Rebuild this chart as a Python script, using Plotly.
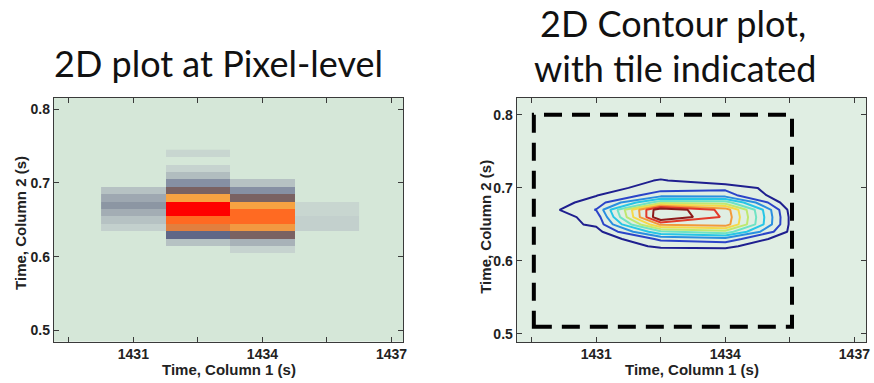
import numpy as np
import plotly.graph_objects as go

# ---- pixel-level intensities (left panel) ----
pixel_x = [1431.0, 1432.5, 1434.0, 1435.5]          # Time, column 1 (s) – pixel centres
pixel_y = [0.60, 0.61, 0.62, 0.63, 0.64, 0.65, 0.66, 0.67,
           0.68, 0.69, 0.70, 0.71, 0.72, 0.73, 0.74]  # Time, column 2 (s)
pix_1431_0 = [0, 0, 0, 0, 9, 14, 22, 32, 24, 14, 0, 0, 0, 0, 0]
pix_1432_5 = [0, 0, 14, 44, 62, 84, 100, 100, 70, 52, 36, 16, 8, 0, 7]
pix_1434_0 = [0, 8, 20, 52, 68, 84, 84, 70, 52, 36, 14, 0, 0, 0, 0]
pix_1435_5 = [0, 0, 0, 0, 9, 9, 7, 7, 0, 0, 0, 0, 0, 0, 0]

# ---- contour grid (right panel) ----
contour_x = [1429.5, 1431.0, 1432.5, 1434.0, 1435.5, 1437.0]
contour_y = [0.60, 0.61, 0.62, 0.63, 0.64, 0.65, 0.66, 0.67,
             0.68, 0.69, 0.70, 0.71, 0.72, 0.73]
cz_1429_5 = [0, 0, 0, 0, 0, 0, 0, 0, 0, 0, 0, 0, 0, 0]
cz_1431_0 = [0, 0, 0, 0, 4, 10, 11.5, 18.5, 12, 7.5, 2, 0, 0, 0]
cz_1432_5 = [0, 0, 10, 20, 46, 80, 110, 108, 54, 23, 14, 9, 3, 0]
cz_1434_0 = [0, 2, 10, 24, 54, 84, 86, 84, 53, 22, 16, 0, 0, 0]
cz_1435_5 = [0, 0, 0, 0, 6, 6.5, 6.5, 5, 0, 0, 0, 0, 0, 0]
cz_1437_0 = [0, 0, 0, 0, 0, 0, 0, 0, 0, 0, 0, 0, 0, 0]

# contour levels and their line colours (jet-like, low -> high)
contour_levels = [8, 18, 28, 38, 48, 58, 68, 78, 88, 98]
level_colors = ["#1f1f8f", "#2b44c8", "#2a8fe0", "#27c6e6", "#6fe3c4",
                "#bfe870", "#f5d94a", "#f29a3a", "#e23a2a", "#8e1a1a"]

# tile boundary drawn on the contour panel
tile_x = [1429.55, 1435.55]
tile_y = [0.51, 0.80]

x_ticks = [1429.5, 1431, 1432.5, 1434, 1435.5, 1437]
x_ticktext = ["", "1431", "", "1434", "", "1437"]
y_ticks = [0.5, 0.6, 0.7, 0.8]
y_ticktext = ["0.5", "0.6", "0.7", "0.8"]

BG_LEFT = "#d5e7d8"
BG_RIGHT = "#e0eee3"

pixel_colors = [
    [0.00, BG_LEFT],
    [0.08, "#c6d3cf"],
    [0.14, "#b6c2c3"],
    [0.22, "#a3adb4"],
    [0.32, "#8c96a3"],
    [0.36, "#8690a3"],
    [0.44, "#5f6787"],
    [0.52, "#7a6262"],
    [0.62, "#e27f3e"],
    [0.70, "#f7a242"],
    [0.84, "#ff6a22"],
    [1.00, "#ff0000"],
]

z_pixels = np.array([pix_1431_0, pix_1432_5, pix_1434_0, pix_1435_5]).T
z_contour = np.array([cz_1429_5, cz_1431_0, cz_1432_5, cz_1434_0,
                      cz_1435_5, cz_1437_0]).T

fig = go.Figure()

fig.add_trace(go.Heatmap(
    x=pixel_x, y=pixel_y, z=z_pixels,
    colorscale=pixel_colors, zmin=0, zmax=100,
    showscale=False, hoverinfo="skip",
    xaxis="x", yaxis="y",
))

# one contour trace per level so each line gets its own colour
for level, color in zip(contour_levels, level_colors):
    fig.add_trace(go.Contour(
        x=contour_x, y=contour_y, z=z_contour,
        autocontour=False,
        contours=dict(coloring="lines", start=level, end=level, size=1,
                      showlabels=False),
        line=dict(width=2, smoothing=0),
        colorscale=[[0, color], [1, color]],
        showscale=False, hoverinfo="skip",
        xaxis="x2", yaxis="y2",
    ))

fig.add_shape(
    type="rect", xref="x2", yref="y2",
    x0=tile_x[0], x1=tile_x[1], y0=tile_y[0], y1=tile_y[1],
    line=dict(color="black", width=4, dash="18px,10px"),
    fillcolor="rgba(0,0,0,0)", layer="above",
)

tick_font = dict(family="Liberation Sans, Arial, sans-serif", size=14,
                 color="#222", weight="bold")
axis_common = dict(
    showgrid=False, zeroline=False,
    showline=True, linecolor="#3a3a3a", linewidth=1, mirror="ticks",
    ticks="inside", ticklen=5, tickwidth=1, tickcolor="#3a3a3a",
    tickfont=tick_font,
)

Y_DOM = [0.108, 0.744]
fig.update_layout(
    width=874, height=383,
    margin=dict(l=0, r=0, t=0, b=0),
    paper_bgcolor="white",
    showlegend=False,
    xaxis=dict(domain=[54 / 874, 405 / 874], range=[1429.15, 1437.27],
               tickvals=x_ticks, ticktext=x_ticktext, **axis_common),
    yaxis=dict(domain=Y_DOM, range=[0.485, 0.815],
               tickvals=y_ticks, ticktext=y_ticktext, **axis_common),
    xaxis2=dict(domain=[519 / 874, 870 / 874], range=[1429.15, 1437.27],
                anchor="y2",
                tickvals=x_ticks, ticktext=x_ticktext, **axis_common),
    yaxis2=dict(domain=Y_DOM, range=[0.4895, 0.823], anchor="x2",
                tickvals=y_ticks, ticktext=y_ticktext, **axis_common),
    plot_bgcolor=BG_LEFT,
)

# second panel background
fig.add_shape(type="rect", xref="x2 domain", yref="y2 domain",
              x0=0, x1=1, y0=0, y1=1, fillcolor=BG_RIGHT,
              line=dict(width=0), layer="below")

label_font = dict(family="Liberation Sans, Arial, sans-serif", size=15,
                  color="#222", weight="bold")
title_font = dict(family="Lato, Noto Sans, sans-serif", size=36, color="#111")

annotations = [
    dict(text="Time, Column 1 (s)", x=230 / 874, y=1 - 369 / 383,
         xref="paper", yref="paper", showarrow=False, font=label_font,
         xanchor="center", yanchor="middle"),
    dict(text="Time, Column 1 (s)", x=695 / 874, y=1 - 369 / 383,
         xref="paper", yref="paper", showarrow=False, font=label_font,
         xanchor="center", yanchor="middle"),
    dict(text="Time, Column 2 (s)", x=20 / 874, y=1 - 223 / 383,
         xref="paper", yref="paper", showarrow=False, font=label_font,
         textangle=-90, xanchor="center", yanchor="middle"),
    dict(text="Time, Column 2 (s)", x=487 / 874, y=1 - 227 / 383,
         xref="paper", yref="paper", showarrow=False, font=label_font,
         textangle=-90, xanchor="center", yanchor="middle"),
    dict(text="2D plot at Pixel-level", x=220 / 874, y=1 - 63 / 383,
         xref="paper", yref="paper", showarrow=False, font=title_font,
         xanchor="center", yanchor="middle"),
    dict(text="2D Contour plot,", x=676 / 874, y=1 - 23 / 383,
         xref="paper", yref="paper", showarrow=False, font=title_font,
         xanchor="center", yanchor="middle"),
    dict(text="with tile indicated", x=678 / 874, y=1 - 68 / 383,
         xref="paper", yref="paper", showarrow=False, font=title_font,
         xanchor="center", yanchor="middle"),
]
fig.update_layout(annotations=annotations)

fig.write_html("out.html")
